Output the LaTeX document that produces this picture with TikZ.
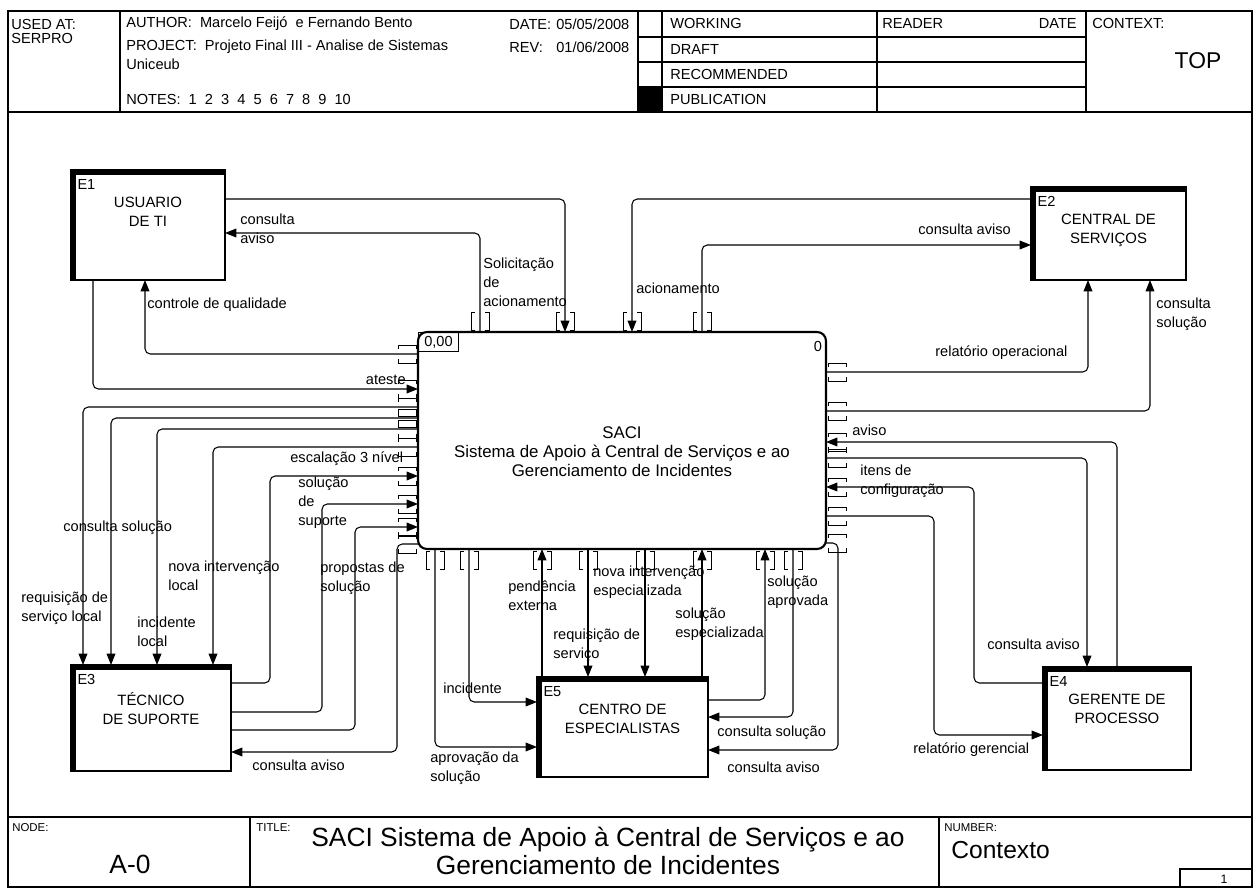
\documentclass[tikz,border=0pt]{standalone}
\usepackage{fontspec}
\setmainfont{Liberation Sans}
\usetikzlibrary{arrows.meta,positioning}

\tikzset{
  tunnel/.pic={
    \draw[line width=0.5pt] (-5,-2) -- (-9,-2) -- (-9,-20) -- (-5,-20);
    \draw[line width=0.5pt] (5,-2) -- (9,-2) -- (9,-20) -- (5,-20);
  }
}

\begin{document}
\begin{tikzpicture}[x=0.02cm, y=-0.02cm,
  every node/.style={font=\fontsize{8.3}{10.9}\selectfont, inner sep=0pt},
  ent/.style={draw, line width=1.1pt, outer sep=0pt},
  thickedge/.style={line width=2.8pt},
  enttxt/.style={align=center, font=\fontsize{8.5}{10.8}\selectfont},
  idtag/.style={anchor=north west},
  arr/.style={-{Triangle[length=6.5pt,width=5pt]}, line width=0.6pt, rounded corners=3pt},
  lbl/.style={align=left, anchor=west},
  hdr/.style={anchor=west},
  cornertag/.style={font=\fontsize{6.5}{7}\selectfont, anchor=north west}]
\useasboundingbox (0,0) rectangle (1258,888);

% frame, header and footer
\draw[line width=0.8pt] (8,11) rectangle (1252,887);
\draw[line width=0.8pt] (8,112) -- (1252,112);
\draw[line width=0.6pt] (120,11) -- (120,112) (638,11) -- (638,112) (662,11) -- (662,112) (877,11) -- (877,112) (1086,11) -- (1086,112);
\draw[line width=0.6pt] (638,37) -- (1086,37) (638,62) -- (1086,62) (638,87) -- (1086,87);
\fill (638,87) rectangle (662,112);
\draw[line width=0.8pt] (8,817) -- (1252,817);
\draw[line width=0.6pt] (250,817) -- (250,887) (939,817) -- (939,887);
\draw[line width=0.6pt] (1180,869) rectangle (1252,887);

\node[anchor=north west, align=left, font=\fontsize{8.3}{8}\selectfont] (used) at (11,19) {USED AT:\\SERPRO};
\node[hdr] (author) at (126,24) {AUTHOR:\ \ Marcelo Feijó\ \ e Fernando Bento};
\node[hdr] (date) at (509,24) {DATE:};
\node[hdr] (date-v) at (556,24) {05/05/2008};
\node[hdr] (project) at (126,47) {PROJECT:\ \ Projeto Final III - Analise de Sistemas};
\node[hdr] (rev) at (509,47) {REV:};
\node[hdr] (rev-v) at (556,47) {01/06/2008};
\node[hdr] (uniceub) at (126,64) {Uniceub};
\node[hdr] (notes) at (126,99) {NOTES:\ \ 1\ \ 2\ \ 3\ \ 4\ \ 5\ \ 6\ \ 7\ \ 8\ \ 9\ \ 10};
\node[hdr] (working) at (670,23) {WORKING};
\node[hdr] (draft) at (670,49) {DRAFT};
\node[hdr] (recommended) at (670,74) {RECOMMENDED};
\node[hdr] (publication) at (670,99) {PUBLICATION};
\node[hdr] (reader) at (882,23) {READER};
\node[anchor=east] (reader-date) at (1077,23) {DATE};
\node[hdr] (context) at (1092,23) {CONTEXT:};
\node[font=\fontsize{13}{14}\selectfont] (top) at (1198,61) {TOP};

\node[cornertag] (node-tag) at (12,823) {NODE:};
\node[font=\fontsize{15}{16}\selectfont] (node-v) at (130,864) {A-0};
\node[cornertag] (title-tag) at (256,823) {TITLE:};
\node[align=center, font=\fontsize{15}{16}\selectfont] (title-v) at (608,851) {SACI Sistema de Apoio à Central de Serviços e ao\\Gerenciamento de Incidentes};
\node[cornertag] (number-tag) at (944,823) {NUMBER:};
\node[anchor=west, font=\fontsize{14}{15}\selectfont] (number-v) at (951,850) {Contexto};
\node[font=\fontsize{7}{8}\selectfont] (page) at (1224,879) {1};

% activity
\node[draw, line width=1.2pt, rounded corners=5pt, minimum width=8.16cm, minimum height=4.34cm, outer sep=0pt] (saci) at (622,440.5) {};
\node[draw, line width=0.5pt, anchor=north west, minimum width=0.8cm, minimum height=0.38cm] (saci-ref) at (saci.north west) {0,00};
\node[anchor=north east] (saci-no) at ([xshift=-2pt,yshift=-5pt]saci.north east) {0};
\node[align=center, font=\fontsize{9.6}{10.8}\selectfont] (saci-txt) at (622,452) {SACI\\Sistema de Apoio à Central de Serviços e ao\\Gerenciamento de Incidentes};

% external entities
\node[ent, minimum width=3.08cm, minimum height=2.2cm] (e1) at (148,225) {};
\node[ent, minimum width=3.10cm, minimum height=1.86cm] (e2) at (1108.5,233.5) {};
\node[ent, minimum width=3.20cm, minimum height=2.12cm] (e3) at (151,718) {};
\node[ent, minimum width=2.96cm, minimum height=2.06cm] (e4) at (1117,718.5) {};
\node[ent, minimum width=3.42cm, minimum height=2.00cm] (e5) at (622.5,727) {};
\draw[thickedge] ([xshift=1.4pt]e1.south west) |- ([yshift=-1.4pt]e1.north east);
\draw[thickedge] ([xshift=1.4pt]e2.south west) |- ([yshift=-1.4pt]e2.north east);
\draw[thickedge] ([xshift=1.4pt]e3.south west) |- ([yshift=-1.4pt]e3.north east);
\draw[thickedge] ([xshift=1.4pt]e4.south west) |- ([yshift=-1.4pt]e4.north east);
\draw[thickedge] ([xshift=1.4pt]e5.south west) |- ([yshift=-1.4pt]e5.north east);
\node[idtag] (e1-id) at ([xshift=3.5pt,yshift=-5pt]e1.north west) {E1};
\node[idtag] (e2-id) at ([xshift=3.5pt,yshift=-5pt]e2.north west) {E2};
\node[idtag] (e3-id) at ([xshift=3.5pt,yshift=-5pt]e3.north west) {E3};
\node[idtag] (e4-id) at ([xshift=3.5pt,yshift=-5pt]e4.north west) {E4};
\node[idtag] (e5-id) at ([xshift=3.5pt,yshift=-5pt]e5.north west) {E5};
\node[enttxt, below=0.54cm of e1.north] (e1-name) {USUARIO\\DE TI};
\node[enttxt, below=0.54cm of e2.north] (e2-name) {CENTRAL DE\\SERVIÇOS};
\node[enttxt, below=0.54cm of e3.north] (e3-name) {TÉCNICO\\DE SUPORTE};
\node[enttxt, below=0.54cm of e4.north] (e4-name) {GERENTE DE\\PROCESSO};
\node[enttxt, below=0.54cm of e5.north] (e5-name) {CENTRO DE\\ESPECIALISTAS};

% tunnels
\path (saci.north -| 480,0) pic{tunnel} (saci.north -| 565,0) pic{tunnel} (saci.north -| 632,0) pic{tunnel} (saci.north -| 702,0) pic{tunnel};
\path (saci.south -| 435,0) pic[rotate=180]{tunnel} (saci.south -| 469,0) pic[rotate=180]{tunnel} (saci.south -| 542,0) pic[rotate=180]{tunnel} (saci.south -| 588,0) pic[rotate=180]{tunnel} (saci.south -| 645,0) pic[rotate=180]{tunnel} (saci.south -| 702,0) pic[rotate=180]{tunnel} (saci.south -| 765,0) pic[rotate=180]{tunnel} (saci.south -| 793,0) pic[rotate=180]{tunnel};
\path (saci.west |- 0,354) pic[rotate=90]{tunnel} (saci.west |- 0,389) pic[rotate=90]{tunnel} (saci.west |- 0,407) pic[rotate=90]{tunnel} (saci.west |- 0,418) pic[rotate=90]{tunnel} (saci.west |- 0,429) pic[rotate=90]{tunnel} (saci.west |- 0,447) pic[rotate=90]{tunnel} (saci.west |- 0,476) pic[rotate=90]{tunnel} (saci.west |- 0,504) pic[rotate=90]{tunnel} (saci.west |- 0,527) pic[rotate=90]{tunnel} (saci.west |- 0,544) pic[rotate=90]{tunnel};
\path (saci.east |- 0,372) pic[rotate=-90]{tunnel} (saci.east |- 0,411) pic[rotate=-90]{tunnel} (saci.east |- 0,442) pic[rotate=-90]{tunnel} (saci.east |- 0,458) pic[rotate=-90]{tunnel} (saci.east |- 0,487) pic[rotate=-90]{tunnel} (saci.east |- 0,516) pic[rotate=-90]{tunnel} (saci.east |- 0,543) pic[rotate=-90]{tunnel};

% arrows: E1
\draw[arr] (saci.north -| 480,0) |- (e1.east |- 0,233);
\draw[arr] (e1.east |- 0,199) -| (saci.north -| 565,0);
\draw[arr] (saci.west |- 0,354) -| (e1.south -| 145,0);
\draw[arr] (e1.south -| 93,0) |- (saci.west |- 0,389);
% arrows: E3
\draw[arr] (saci.west |- 0,407) -| (e3.north -| 83,0);
\draw[arr] (saci.west |- 0,418) -| (e3.north -| 111,0);
\draw[arr] (saci.west |- 0,429) -| (e3.north -| 157,0);
\draw[arr] (saci.west |- 0,447) -| (e3.north -| 213,0);
\draw[arr] (e3.east |- 0,683) -| (270,476) -- (saci.west |- 0,476);
\draw[arr] (e3.east |- 0,712) -| (322,504) -- (saci.west |- 0,504);
\draw[arr] (e3.east |- 0,730) -| (355,527) -- (saci.west |- 0,527);
\draw[arr] (saci.west |- 0,544) -| (397,752) -- (e3.east |- 0,752);
% arrows: E2
\draw[arr] (e2.west |- 0,199) -| (saci.north -| 632,0);
\draw[arr] (saci.north -| 702,0) |- (e2.west |- 0,245);
\draw[arr] (saci.east |- 0,372) -| (e2.south -| 1088,0);
\draw[arr] (saci.east |- 0,411) -| (e2.south -| 1150,0);
% arrows: E4
\draw[arr] (e4.north -| 1117,0) |- (saci.east |- 0,442);
\draw[arr] (saci.east |- 0,458) -| (e4.north -| 1087,0);
\draw[arr] (e4.west |- 0,683) -| (974,487) -- (saci.east |- 0,487);
\draw[arr] (saci.east |- 0,516) -| (934,735) -- (e4.west |- 0,735);
% arrows: E5
\draw[arr] (saci.east |- 0,543) -| (838,750) -- (e5.east |- 0,750);
\draw[arr] (saci.south -| 435,0) |- (e5.west |- 0,747);
\draw[arr] (saci.south -| 469,0) |- (e5.west |- 0,702);
\draw[arr] (e5.north -| 542,0) -- (saci.south -| 542,0);
\draw[arr] (saci.south -| 588,0) -- (e5.north -| 588,0);
\draw[arr] (saci.south -| 645,0) -- (e5.north -| 645,0);
\draw[arr] (e5.north -| 702,0) -- (saci.south -| 702,0);
\draw[arr] (e5.east |- 0,700) -| (saci.south -| 765,0);
\draw[arr] (saci.south -| 793,0) |- (e5.east |- 0,717);

% labels
\node[lbl] (l-e1-aviso) at (240,229) {consulta\\aviso};
\node[lbl] (l-qualidade) at (147,305) {controle de qualidade};
\node[anchor=east] (l-ateste) at (406,380) {ateste};
\node[lbl] (l-solicitacao) at (483,282) {Solicitação\\de\\acionamento};
\node[lbl] (l-acionamento) at (636,288) {acionamento};
\node[lbl] (l-e2-aviso) at (918,229) {consulta aviso};
\node[lbl] (l-operacional) at (935,353) {relatório operacional};
\node[lbl] (l-e2-solucao) at (1156,314) {consulta\\solução};
\node[lbl] (l-aviso) at (852,430) {aviso};
\node[lbl] (l-itens) at (860,481) {itens de\\configuração};
\node[lbl] (l-e4-aviso) at (987,644) {consulta aviso};
\node[lbl] (l-gerencial) at (913,750) {relatório gerencial};
\node[lbl] (l-req-local) at (21,608) {requisição de\\serviço local};
\node[lbl] (l-e3-solucao) at (63,528) {consulta solução};
\node[lbl] (l-inc-local) at (137,632) {incidente\\local};
\node[lbl] (l-nova-local) at (168,576) {nova intervenção\\local};
\node[lbl] (l-escalacao) at (290,459) {escalação 3 nível};
\node[lbl] (l-suporte) at (298,503) {solução\\de\\suporte};
\node[lbl] (l-propostas) at (320,578) {propostas de\\solução};
\node[lbl] (l-e3-aviso) at (252,765) {consulta aviso};
\node[lbl] (l-pendencia) at (508,596) {pendência\\externa};
\node[lbl] (l-nova-esp) at (593,582) {nova intervenção\\especializada};
\node[lbl] (l-req-servico) at (553,645) {requisição de\\serviço};
\node[lbl] (l-sol-esp) at (675,624) {solução\\especializada};
\node[lbl] (l-aprovada) at (767,592) {solução\\aprovada};
\node[lbl] (l-incidente) at (443,688) {incidente};
\node[lbl] (l-aprovacao) at (430,768) {aprovação da\\solução};
\node[lbl] (l-e5-solucao) at (717,733) {consulta solução};
\node[lbl] (l-e5-aviso) at (727,767) {consulta aviso};
\end{tikzpicture}
\end{document}
